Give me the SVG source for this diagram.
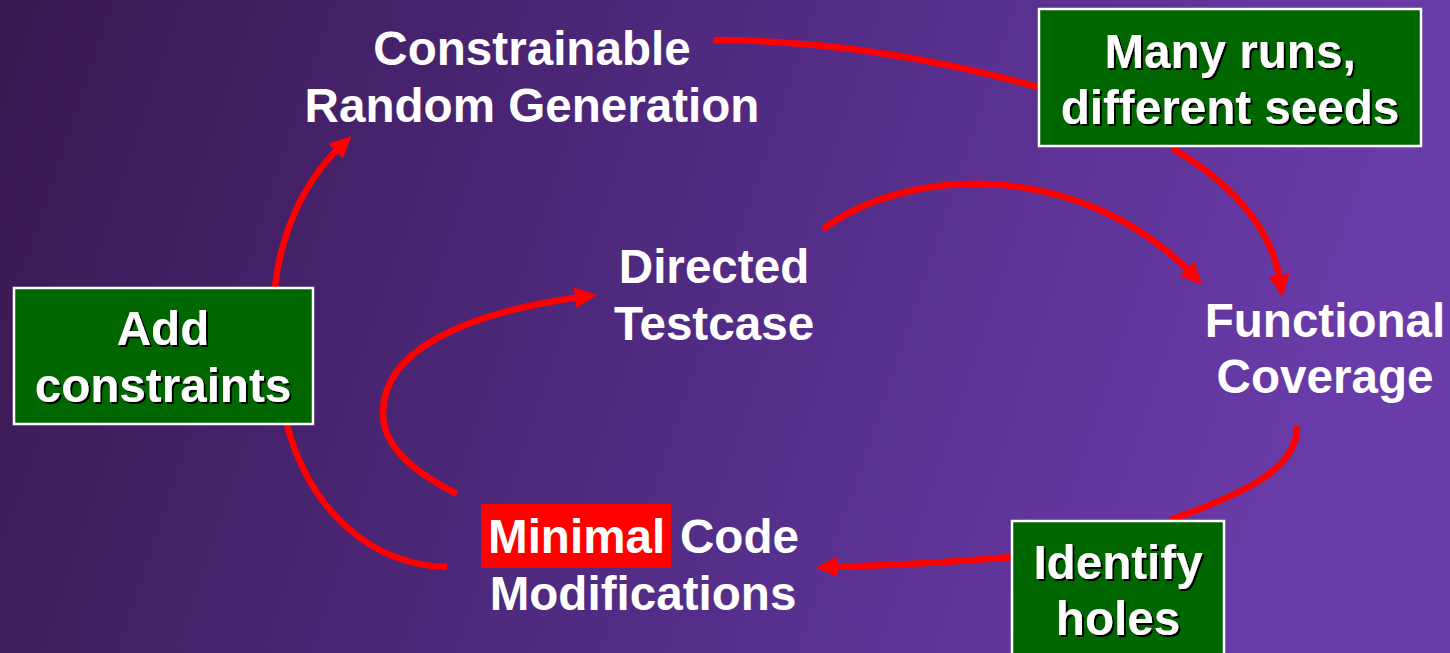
<svg xmlns="http://www.w3.org/2000/svg" width="1450" height="653" viewBox="0 0 1450 653">
  <defs>
    <linearGradient id="bg" x1="0" y1="0" x2="1" y2="0.15">
      <stop offset="0" stop-color="#3a1851"/>
      <stop offset="0.5" stop-color="#4f2a80"/>
      <stop offset="1" stop-color="#6a3caa"/>
    </linearGradient>
    <filter id="shadow" x="-10%" y="-10%" width="130%" height="130%">
      <feOffset in="SourceAlpha" dx="2" dy="2" result="off"/>
      <feFlood flood-color="#000000"/>
      <feComposite in2="off" operator="in" result="sh"/>
      <feMerge>
        <feMergeNode in="sh"/>
        <feMergeNode in="SourceGraphic"/>
      </feMerge>
    </filter>
    <marker id="arrow" markerUnits="userSpaceOnUse" markerWidth="23" markerHeight="21" refX="6" refY="10.5" orient="auto">
      <path d="M0,0 L22,10.5 L0,21 Z" fill="#ff0000"/>
    </marker>
  </defs>
  <style>
    .label { font-family: "Liberation Sans", Arial, sans-serif; font-weight: bold; font-size: 47.6px; fill: #ffffff; text-anchor: middle; }
    .box { fill: #006600; stroke: #ffffff; stroke-width: 2.5; }
    .link { fill: none; stroke: #ff0000; stroke-width: 6.5; }
  </style>

  <rect x="0" y="0" width="1450" height="653" fill="url(#bg)"/>

  <!-- connectors -->
  <g id="connectors">
    <path class="link" d="M275,287 C280,240 300,185 340,147" marker-end="url(#arrow)"/>
    <path class="link" d="M713,40 Q870,40 1038,87"/>
    <path class="link" d="M1172,148 Q1268,205 1280,281" marker-end="url(#arrow)"/>
    <path class="link" d="M823,229 C910,165 1080,160 1191,273" marker-end="url(#arrow)"/>
    <path class="link" d="M1297,426 C1298,470 1240,495 1170,520"/>
    <path class="link" d="M1011,557 Q930,564 832,567" marker-end="url(#arrow)"/>
    <path class="link" d="M457,494 C410,470 383,445 383,413 C383,350 465,313 581,297" marker-end="url(#arrow)"/>
    <path class="link" d="M287,425 C310,510 370,565 447,567"/>
  </g>

  <g id="random-generation">
    <text class="label" x="532" y="65">Constrainable</text>
    <text class="label" x="532" y="122">Random Generation</text>
  </g>

  <g id="directed-testcase">
    <text class="label" x="714" y="283">Directed</text>
    <text class="label" x="714" y="340">Testcase</text>
  </g>

  <g id="functional-coverage">
    <text class="label" x="1325" y="337">Functional</text>
    <text class="label" x="1325" y="393">Coverage</text>
  </g>

  <g id="code-modifications">
    <rect x="481" y="504" width="190" height="64" fill="#ff0000"/>
    <text class="label" x="488" y="553" style="text-anchor:start">Minimal</text>
    <text class="label" x="680" y="553" style="text-anchor:start">Code</text>
    <text class="label" x="643" y="610">Modifications</text>
  </g>

  <g id="add-constraints">
    <rect class="box" x="14" y="288" width="299" height="136"/>
    <g filter="url(#shadow)">
      <text class="label" x="163" y="345">Add</text>
      <text class="label" x="163" y="402">constraints</text>
    </g>
  </g>

  <g id="many-runs">
    <rect class="box" x="1039" y="9" width="382" height="137"/>
    <g filter="url(#shadow)">
      <text class="label" x="1230" y="68">Many runs,</text>
      <text class="label" x="1230" y="124">different seeds</text>
    </g>
  </g>

  <g id="identify-holes">
    <rect class="box" x="1012" y="521" width="212" height="140"/>
    <g filter="url(#shadow)">
      <text class="label" x="1118" y="579">Identify</text>
      <text class="label" x="1118" y="635">holes</text>
    </g>
  </g>
</svg>
